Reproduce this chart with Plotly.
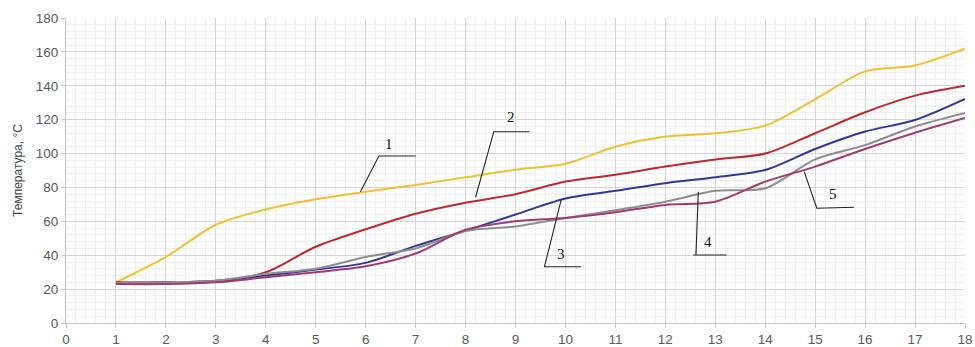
import plotly.graph_objects as go

x_vals = list(range(1, 19))
curve1 = [24, 39, 58, 67, 73, 77.5, 81.5, 86, 90.5, 94, 104, 110, 112, 116.5, 132, 148.5, 152, 162]
curve2 = [24, 24, 24.5, 30, 45, 55.3, 64.5, 71, 76, 83.5, 87.5, 92.3, 96.5, 100, 112, 124.4, 134.2, 140]
curve3 = [23.5, 24, 25, 28, 31.5, 35.5, 45.5, 54.5, 64, 73.5, 78, 82.5, 86, 90.3, 102.7, 113, 119.8, 132.2]
curve4 = [23.5, 24, 25, 29, 32, 39, 44, 54.3, 57, 62, 66.5, 71.5, 78, 79.5, 96.6, 105, 116, 124]
curve5 = [23, 23, 24, 27, 30, 33.5, 41, 55, 60, 62, 65.3, 69.7, 71.6, 83.4, 92.3, 102.7, 112.3, 121]
colors = ["#F2C12E", "#C1272D", "#34379A", "#8E8E8E", "#A23A78"]
series = [curve1, curve2, curve3, curve4, curve5]

x_ticks = list(range(0, 19))
y_ticks = list(range(0, 181, 20))
y_title = "Температура, °С"

# leader lines for labels (data coordinates): (points, label, label position)
leaders = [
    ([(5.894, 77.5), (6.266, 98.6), (7.0, 98.6)], "1", (6.47, 105.5)),
    ([(8.2, 74.2), (8.566, 112.9), (9.28, 112.9)], "2", (8.9, 121.5)),
    ([(9.914, 72.6), (9.58, 33.2), (10.314, 33.2)], "3", (9.92, 40.5)),
    ([(12.66, 77.5), (12.613, 40.1), (12.56, 40.1), (13.226, 40.1)], "4", (12.85, 48.0)),
    ([(14.78, 89.3), (15.034, 67.7), (15.78, 68.3)], "5", (15.35, 76.0)),
]

fig = go.Figure()
for ys, c in zip(series, colors):
    fig.add_trace(go.Scatter(x=x_vals, y=ys, mode="lines",
                             line=dict(color=c, width=2, shape="spline", smoothing=0.85),
                             showlegend=False, hoverinfo="skip", cliponaxis=False))

for pts, lab, pos in leaders:
    fig.add_trace(go.Scatter(x=[p[0] for p in pts], y=[p[1] for p in pts], mode="lines",
                             line=dict(color="#222222", width=1.1), showlegend=False,
                             hoverinfo="skip"))
    fig.add_annotation(x=pos[0], y=pos[1], text=lab, showarrow=False,
                       font=dict(family="Liberation Serif", size=15, color="#111111"))

fig.update_layout(
    width=975, height=347,
    margin=dict(l=66, r=10, t=18, b=24, autoexpand=False),
    plot_bgcolor="white", paper_bgcolor="white",
    font=dict(family="Liberation Sans", size=13.5, color="#5A5A5A"),
)
fig.update_xaxes(range=[0, 18], tickvals=x_ticks, ticktext=[str(v) for v in x_ticks],
                 automargin=False,
                 showgrid=True, gridcolor="#D6D6D6", gridwidth=1,
                 minor=dict(dtick=0.2, showgrid=True, gridcolor="#EFEFEF", gridwidth=1),
                 showline=True, linecolor="#C8C8C8", linewidth=1,
                 ticks="outside", ticklen=4, tickcolor="#C8C8C8",
                 zeroline=False, tickfont=dict(size=13.5, color="#5A5A5A"))
fig.update_yaxes(range=[0, 180], tickvals=y_ticks, ticktext=[str(v) for v in y_ticks],
                 automargin=False,
                 showgrid=True, gridcolor="#D6D6D6", gridwidth=1,
                 minor=dict(dtick=4, showgrid=True, gridcolor="#EFEFEF", gridwidth=1),
                 showline=True, linecolor="#C8C8C8", linewidth=1,
                 ticks="outside", ticklen=4, tickcolor="#C8C8C8",
                 zeroline=False, tickfont=dict(size=13.5, color="#5A5A5A"),
                 title=dict(text=y_title, font=dict(size=12, color="#444444"), standoff=10))

fig.write_html("out.html", config={"displayModeBar": False},
               post_script="document.body.style.margin='0';document.body.style.overflow='hidden';")
